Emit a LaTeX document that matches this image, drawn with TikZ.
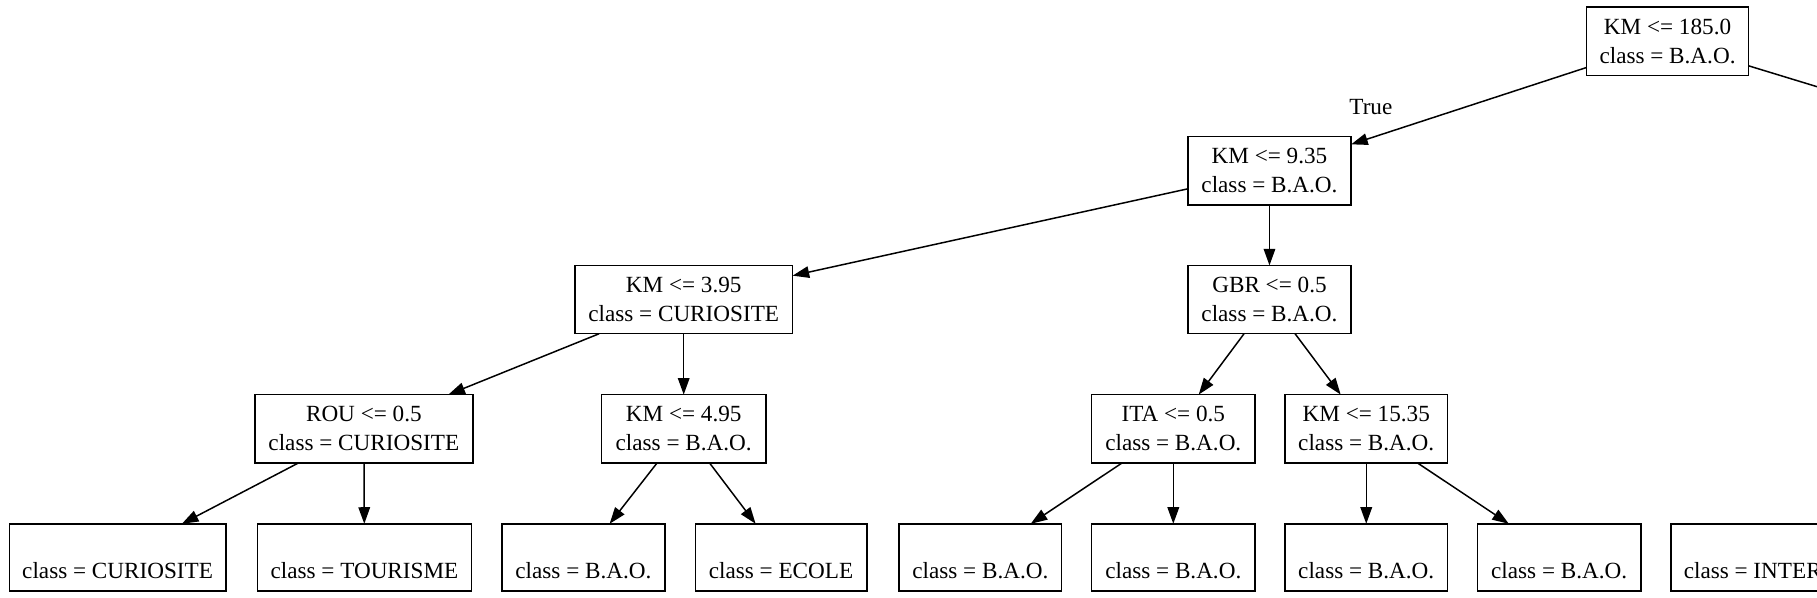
\documentclass[tikz,border=0pt]{standalone}
\usepackage{fontspec}
\setmainfont{Liberation Serif}
\usetikzlibrary{arrows.meta}
\begin{document}
\begin{tikzpicture}[x=0.7pt,y=-0.7pt,
  box/.style={draw, rectangle, line width=0.9pt, inner sep=0pt, outer sep=0pt,
    minimum height=41.3pt, align=center,
    font=\fontsize{14}{17.5}\selectfont},
  leaf/.style={box, minimum height=40.6pt},
  edge/.style={line width=0.9pt, -{Triangle[length=10pt,width=7pt]}},
  plain/.style={line width=0.9pt}]
\useasboundingbox (0,0) rectangle (1568,516);
\clip (0,0) rectangle (1568,516);
% internal nodes
\node[box, minimum width=98pt]    (r)  at (1439,35.5)   {KM <= 185.0\\class = B.A.O.};
\node[box, minimum width=98.7pt]  (n1) at (1095.5,147.5) {KM <= 9.35\\class = B.A.O.};
\node[box, minimum width=131.6pt] (n2) at (590,258.5)   {KM <= 3.95\\class = CURIOSITE};
\node[box, minimum width=98.7pt]  (n3) at (1095.5,258.5) {GBR <= 0.5\\class = B.A.O.};
\node[box, minimum width=131.6pt] (n4) at (314,370)     {ROU <= 0.5\\class = CURIOSITE};
\node[box, minimum width=99.4pt]  (n5) at (590,370)     {KM <= 4.95\\class = B.A.O.};
\node[box, minimum width=98.7pt]  (n6) at (1012.5,370)  {ITA <= 0.5\\class = B.A.O.};
\node[box, minimum width=98pt]    (n7) at (1179,370)    {KM <= 15.35\\class = B.A.O.};
% leaves
\node[leaf, minimum width=130.9pt] (l1) at (101.5,481)  {\mbox{}\\[8pt]class = CURIOSITE};
\node[leaf, minimum width=129.5pt] (l2) at (314.5,481)  {\mbox{}\\[8pt]class = TOURISME};
\node[leaf, minimum width=98.7pt]  (l3) at (503.5,481)  {\mbox{}\\[8pt]class = B.A.O.};
\node[leaf, minimum width=103.6pt] (l4) at (674,481)    {\mbox{}\\[8pt]class = ECOLE};
\node[leaf, minimum width=98pt]    (l5) at (846,481)    {\mbox{}\\[8pt]class = B.A.O.};
\node[leaf, minimum width=98.7pt]  (l6) at (1012.5,481) {\mbox{}\\[8pt]class = B.A.O.};
\node[leaf, minimum width=98pt]    (l7) at (1179,481)   {\mbox{}\\[8pt]class = B.A.O.};
\node[leaf, minimum width=98.7pt]  (l8) at (1345.5,481) {\mbox{}\\[8pt]class = B.A.O.};
\node[leaf, anchor=west, text width=140pt, align=flush left, inner xsep=7.7pt] (l9) at (1442,481) {\mbox{}\\[8pt]class = INTER};
% off-picture continuation
\coordinate (rr) at (1700,115.1);
% label
\node[font=\fontsize{14}{17.5}\selectfont, inner sep=0pt] (t) at (1183,92) {True};
% edges
\draw[edge] (r) -- (n1);
\draw[plain] (r) -- (rr);
\draw[edge] (n1) -- (n2);
\draw[edge] (n1) -- (n3);
\draw[edge] (n2) -- (n4);
\draw[edge] (n2) -- (n5);
\draw[edge] (n3) -- (n6);
\draw[edge] (n3) -- (n7);
\draw[edge] (n4) -- (l1);
\draw[edge] (n4) -- (l2);
\draw[edge] (n5) -- (l3);
\draw[edge] (n5) -- (l4);
\draw[edge] (n6) -- (l5);
\draw[edge] (n6) -- (l6);
\draw[edge] (n7) -- (l7);
\draw[edge] (n7) -- (l8);
\end{tikzpicture}
\end{document}
